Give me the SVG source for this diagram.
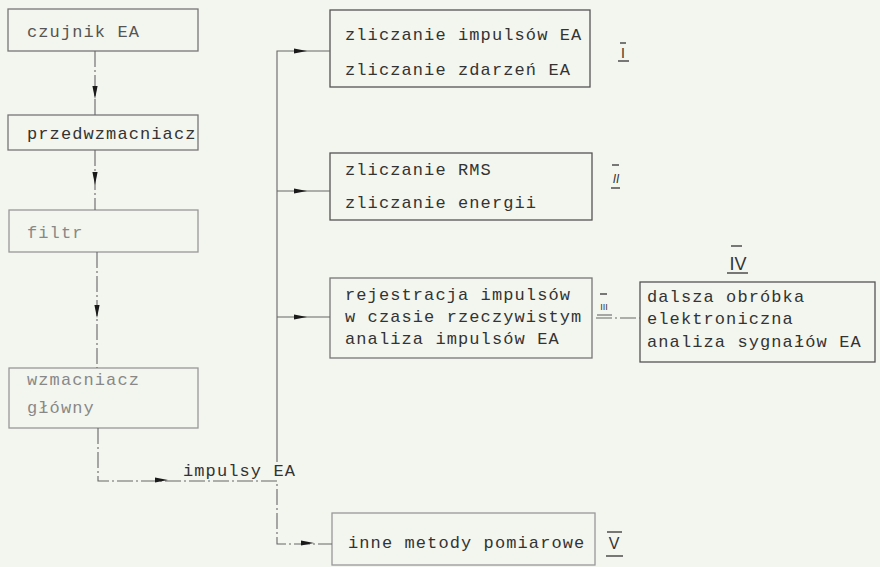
<svg xmlns="http://www.w3.org/2000/svg" xmlns:xlink="http://www.w3.org/1999/xlink" width="880" height="567" viewBox="0 0 880 567">
<style>
  .bg{fill:#f3f6ef}
  .box{fill:none;stroke:#555;stroke-width:1.3}
  .faint{stroke:#999}
  .mid{stroke:#777}
  .t{font-family:"Liberation Mono","DejaVu Sans Mono",monospace;font-size:17px;letter-spacing:1.1px;fill:#333}
  .tf{fill:#555}
  .tff{fill:#888}
  .conn{fill:none;stroke:#666;stroke-width:1.1}
  .dash{stroke-dasharray:16 3 2 3}
  .mark{stroke:#333;stroke-width:1.3}
  .rn{font-family:"Liberation Sans","DejaVu Sans",sans-serif;fill:#333;text-anchor:middle}
</style>
<defs>
  <path id="ah" d="M-7,-2.6 L6,0 L-7,2.6 Z" fill="#1a1a1a"/>
</defs>
<rect class="bg" x="0" y="0" width="880" height="567"/>

<g id="czujnik">
  <rect class="box mid" x="8" y="9" width="190" height="42"/>
  <text class="t tf" x="27" y="37">czujnik EA</text>
</g>
<g id="przedwzmacniacz">
  <rect class="box mid" x="8" y="115" width="190" height="35"/>
  <text class="t" x="27" y="139">przedwzmacniacz</text>
</g>
<g id="filtr">
  <rect class="box faint" x="9" y="210" width="189" height="42"/>
  <text class="t tff" x="27" y="238">filtr</text>
</g>
<g id="wzmacniacz">
  <rect class="box faint" x="9" y="368" width="189" height="60"/>
  <text class="t tff" x="27" y="385">wzmacniacz</text>
  <text class="t tff" x="27" y="413">główny</text>
</g>

<g id="box-I">
  <rect class="box" x="330" y="10" width="260" height="77"/>
  <text class="t" x="345" y="40">zliczanie impulsów EA</text>
  <text class="t" x="345" y="75">zliczanie zdarzeń EA</text>
  <line class="mark" x1="620" y1="43" x2="626" y2="43"/>
  <text class="rn" x="623" y="58" font-size="14">I</text>
  <line class="mark" x1="618" y1="61" x2="629" y2="61"/>
</g>
<g id="box-II">
  <rect class="box" x="330" y="153" width="262" height="67"/>
  <text class="t" x="345" y="175">zliczanie RMS</text>
  <text class="t" x="345" y="208">zliczanie energii</text>
  <line class="mark" x1="612" y1="165" x2="619" y2="165"/>
  <text class="rn" x="616" y="183" font-size="12" font-style="italic">II</text>
  <line class="mark" x1="611" y1="188" x2="620" y2="188"/>
</g>
<g id="box-III">
  <rect class="box mid" x="330" y="278" width="262" height="80"/>
  <text class="t" x="345" y="300">rejestracja impulsów</text>
  <text class="t" x="345" y="322">w czasie rzeczywistym</text>
  <text class="t" x="345" y="344">analiza impulsów EA</text>
  <line class="mark" x1="600" y1="294" x2="607" y2="294"/>
  <text class="rn" x="604" y="310" font-size="9">III</text>
</g>
<g id="box-IV">
  <rect class="box" x="640" y="282" width="235" height="80"/>
  <text class="t" x="647" y="302">dalsza obróbka</text>
  <text class="t" x="647" y="324">elektroniczna</text>
  <text class="t" x="647" y="347">analiza sygnałów EA</text>
  <line class="mark" x1="731" y1="246" x2="742" y2="246"/>
  <text class="rn" x="738" y="270" font-size="18">IV</text>
  <line class="mark" x1="727" y1="273" x2="748" y2="273"/>
</g>
<g id="box-V">
  <rect class="box faint" x="332" y="513" width="263" height="52"/>
  <text class="t" x="348" y="548">inne metody pomiarowe</text>
  <line class="mark" x1="607" y1="532" x2="622" y2="532"/>
  <text class="rn" x="614" y="549" font-size="16">V</text>
  <line class="mark" x1="606" y1="556" x2="623" y2="556"/>
</g>

<g id="connectors">
  <line class="conn dash" x1="95" y1="51" x2="95" y2="115"/>
  <line class="conn dash" x1="95" y1="150" x2="95" y2="210"/>
  <line class="conn dash" x1="97" y1="252" x2="97" y2="368"/>
  <polyline class="conn dash" points="98,428 98,481 277,481 277,544 332,544"/>
  <polyline class="conn" points="330,51 277,51 277,462"/>
  <line class="conn" x1="277" y1="191" x2="330" y2="191"/>
  <line class="conn" x1="277" y1="317" x2="330" y2="317"/>
  <line class="conn dash" x1="596" y1="318" x2="640" y2="318"/>
  <line class="conn" x1="597" y1="315" x2="612" y2="315"/>
  <use xlink:href="#ah" transform="translate(95,93) rotate(90)"/>
  <use xlink:href="#ah" transform="translate(95,179) rotate(90)"/>
  <use xlink:href="#ah" transform="translate(97,312) rotate(90)"/>
  <use xlink:href="#ah" transform="translate(162,480)"/>
  <use xlink:href="#ah" transform="translate(301,51)"/>
  <use xlink:href="#ah" transform="translate(301,191)"/>
  <use xlink:href="#ah" transform="translate(301,317)"/>
  <use xlink:href="#ah" transform="translate(308,543)"/>
  <text class="t" x="183" y="476">impulsy EA</text>
</g>
</svg>
